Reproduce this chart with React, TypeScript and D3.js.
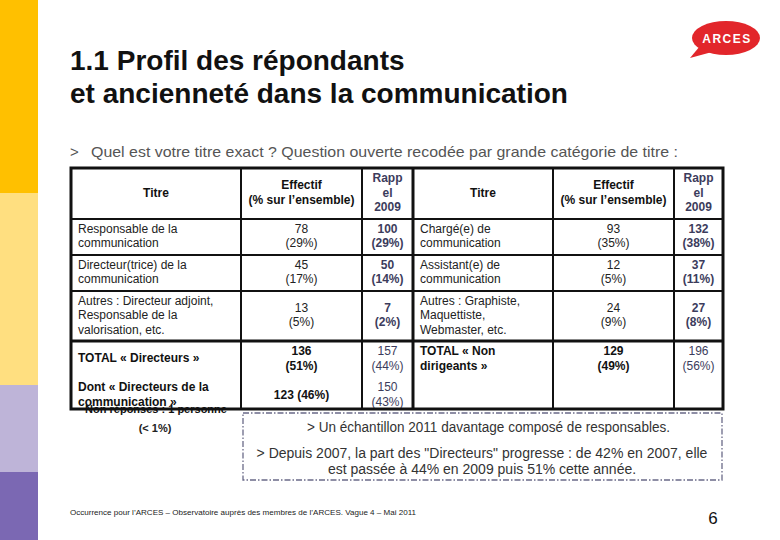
import React from "react";
import * as d3 from "d3";

// ---------- DATA ----------
const leftTitles = [
  "Responsable de la\ncommunication",
  "Directeur(trice) de la\ncommunication",
  "Autres : Directeur adjoint,\nResponsable de la\nvalorisation, etc.",
];
const leftEffectif = ["78\n(29%)", "45\n(17%)", "13\n(5%)"];
const leftRappel = ["100\n(29%)", "50\n(14%)", "7\n(2%)"];
const rightTitles = [
  "Chargé(e) de\ncommunication",
  "Assistant(e) de\ncommunication",
  "Autres : Graphiste,\nMaquettiste,\nWebmaster, etc.",
];
const rightEffectif = ["93\n(35%)", "12\n(5%)", "24\n(9%)"];
const rightRappel = ["132\n(38%)", "37\n(11%)", "27\n(8%)"];
const headers = ["Titre", "Effectif\n(% sur l’ensemble)", "Rapp\nel\n2009", "Titre", "Effectif\n(% sur l’ensemble)", "Rapp\nel\n2009"];
const totalLeft = ["TOTAL « Directeurs »", "136\n(51%)", "157\n(44%)"];
const dontLeft = ["Dont « Directeurs de la\ncommunication »", "123 (46%)", "150\n(43%)"];
const totalRight = ["TOTAL « Non\ndirigeants »", "129\n(49%)", "196\n(56%)"];
const notes = [
  "> Un échantillon 2011 davantage composé de responsables.",
  "> Depuis 2007, la part des \"Directeurs\" progresse : de 42% en 2007, elle\nest passée à 44% en 2009 puis 51% cette année.",
];
const sidebarColors = ["#FFC000", "#FFDF80", "#BEB4D8", "#7B68B3"];

// ---------- LAYOUT ----------
const W = 780, H = 540;
const colEdges = [71, 241, 362, 413, 553, 674, 723];
const rowEdges = [168, 219, 255, 291, 341, 409];
const LH = 14.5;
const FONT = "'Liberation Sans', Arial, sans-serif";
const RAPPEL = "#3c3c5c";

const colX = d3.scaleOrdinal<number, number>().domain(d3.range(6)).range(colEdges.slice(0, 6));
const rowY = d3.scaleOrdinal<number, number>().domain(d3.range(5)).range(rowEdges.slice(0, 5));
const colW = (c: number) => colEdges[c + 1] - colEdges[c];
const rowH = (r: number) => rowEdges[r + 1] - rowEdges[r];

function Lines({ text, x, cy, anchor = "middle", bold = false, fill = "#111", size = 12 }: any) {
  const lines = String(text).split("\n");
  const y0 = cy - ((lines.length - 1) * LH) / 2;
  return (
    <text x={x} fontFamily={FONT} fontSize={size} fontWeight={bold ? "bold" : "normal"} fill={fill} textAnchor={anchor}>
      {lines.map((l, i) => (
        <tspan key={i} x={x} y={y0 + i * LH} dominantBaseline="central">{l}</tspan>
      ))}
    </text>
  );
}

function cellText(c: number, r: number, text: string, opts: any = {}) {
  const isTitle = c === 0 || c === 3;
  const x = isTitle && r > 0 ? colX(c) + 7 : colX(c) + colW(c) / 2;
  const cy = rowY(r) + rowH(r) / 2 - 1;
  return <Lines key={`${c}-${r}`} text={text} x={x} cy={cy} anchor={isTitle && r > 0 ? "start" : "middle"} {...opts} />;
}

export default function App() {
  const sideEdges = [0, 193, 385, 472, 540];
  const dataRows = [leftTitles, leftEffectif, leftRappel, rightTitles, rightEffectif, rightRappel];
  return (
    <svg width={W} height={H} style={{ position: "absolute", left: 0, top: 0, background: "#fff" }}>
      <rect width={W} height={H} fill="#fff" />
      {sidebarColors.map((c, i) => (
        <rect key={i} x={0} y={sideEdges[i]} width={38} height={sideEdges[i + 1] - sideEdges[i]} fill={c} />
      ))}

      {/* logo */}
      <g>
        <ellipse cx={726} cy={38} rx={34} ry={17} fill="#E2262B" />
        <path d="M700,46 L690,58 L712,52 Z" fill="#E2262B" />
        <text x={727} y={42.5} textAnchor="middle" fontFamily={FONT} fontWeight="bold" fontSize={12} fill="#fff" letterSpacing={1.5}>ARCES</text>
      </g>

      {/* title */}
      <text fontFamily={FONT} fontWeight="bold" fontSize={28} fill="#111">
        <tspan x={70} y={70}>1.1 Profil des répondants</tspan>
        <tspan x={70} y={103}>et ancienneté dans la communication</tspan>
      </text>
      <text x={70} y={157} fontFamily={FONT} fontSize={15} fill="#555">&gt;</text>
      <text x={91} y={157} fontFamily={FONT} fontSize={15} fill="#555" textLength={587} lengthAdjust="spacingAndGlyphs">Quel est votre titre exact ? Question ouverte recodée par grande catégorie de titre :</text>

      {/* table text */}
      {headers.map((h, c) => cellText(c, 0, h, { bold: true, fill: c === 2 || c === 5 ? RAPPEL : "#111" }))}
      {dataRows.map((col, c) =>
        col.map((t, r) => cellText(c, r + 1, t, c === 2 || c === 5 ? { bold: true, fill: RAPPEL } : { fill: "#222" }))
      )}
      {/* totals row */}
      <Lines text={totalLeft[0]} x={colX(0) + 7} cy={358} anchor="start" bold />
      <Lines text={totalLeft[1]} x={colX(1) + colW(1) / 2} cy={358.5} bold />
      <Lines text={totalLeft[2]} x={colX(2) + colW(2) / 2} cy={358.5} fill={RAPPEL} />
      <Lines text={dontLeft[0]} x={colX(0) + 7} cy={394.5} anchor="start" bold />
      <Lines text={dontLeft[1]} x={colX(1) + colW(1) / 2} cy={395} bold />
      <Lines text={dontLeft[2]} x={colX(2) + colW(2) / 2} cy={394.5} fill={RAPPEL} />
      <Lines text={totalRight[0]} x={colX(3) + 7} cy={358.5} anchor="start" bold />
      <Lines text={totalRight[1]} x={colX(4) + colW(4) / 2} cy={358.5} bold />
      <Lines text={totalRight[2]} x={colX(5) + colW(5) / 2} cy={358.5} fill={RAPPEL} />

      {/* grid */}
      <g stroke="#111">
        {rowEdges.slice(1, -1).map((y, i) => (
          <line key={"h" + i} x1={colEdges[0]} x2={colEdges[6]} y1={y} y2={y} strokeWidth={i === 3 ? 3 : 2} />
        ))}
        {colEdges.slice(1, -1).map((x, i) => (
          <line key={"v" + i} x1={x} x2={x} y1={rowEdges[0]} y2={rowEdges[5]} strokeWidth={i === 2 ? 3 : 2} />
        ))}
        <rect x={colEdges[0]} y={rowEdges[0]} width={colEdges[6] - colEdges[0]} height={rowEdges[5] - rowEdges[0]} fill="none" strokeWidth={3} />
      </g>
      <text x={156} y={413} textAnchor="middle" fontFamily={FONT} fontWeight="bold" fontSize={11} fill="#111">Non réponses : 1 personne</text>
      <text x={155} y={432} textAnchor="middle" fontFamily={FONT} fontWeight="bold" fontSize={11} fill="#222">(&lt; 1%)</text>

      {/* notes box */}
      <rect x={243} y={413} width={479} height={67} fill="none" stroke="#6a6a88" strokeWidth={1.3} strokeDasharray="6 2 1.5 2" />
      <text x={488.5} y={432} fontFamily={FONT} fontSize={14} fill="#333" textAnchor="middle" textLength={363} lengthAdjust="spacingAndGlyphs">{notes[0]}</text>
      <text fontFamily={FONT} fontSize={14} fill="#333" textAnchor="middle">
        {notes[1].split("\n").map((l, i) => (
          <tspan key={i} x={482} y={458 + i * 16}>{l}</tspan>
        ))}
      </text>

      {/* footer */}
      <text x={70} y={515} fontFamily={FONT} fontSize={8} fill="#222" textLength={346} lengthAdjust="spacingAndGlyphs">Occurrence pour l’ARCES – Observatoire auprès des membres de l’ARCES. Vague 4 – Mai 2011</text>
      <text x={713} y={524} textAnchor="middle" fontFamily={FONT} fontSize={17} fill="#111">6</text>
    </svg>
  );
}
